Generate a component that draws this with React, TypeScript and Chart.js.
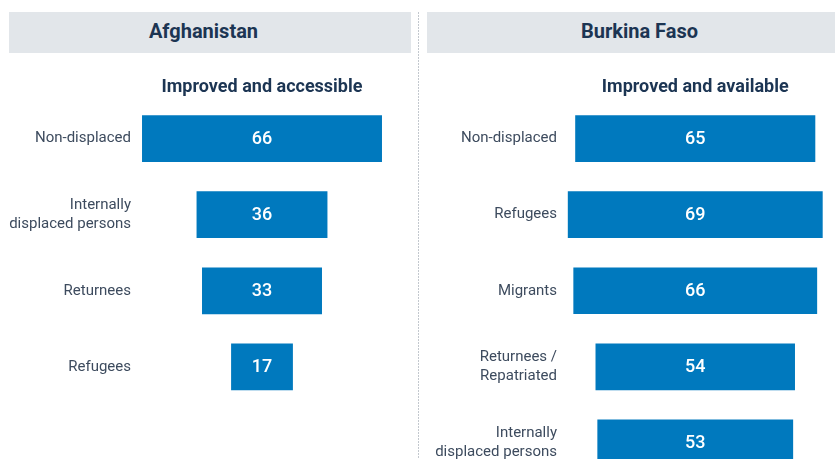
import React, { useEffect, useRef } from "react";
import { Chart, registerables } from "chart.js";

Chart.register(...registerables);

const afgTitle = "Afghanistan";
const afgSubtitle = "Improved and accessible";
const afgCategories: (string | string[])[] = ["Non-displaced", ["Internally", "displaced persons"], "Returnees", "Refugees"];
const afgValues = [66, 36, 33, 17];

const bfaTitle = "Burkina Faso";
const bfaSubtitle = "Improved and available";
const bfaCategories: (string | string[])[] = [
  "Non-displaced",
  "Refugees",
  "Migrants",
  ["Returnees /", "Repatriated"],
  ["Internally", "displaced persons"],
];
const bfaValues = [65, 69, 66, 54, 53];

const FONT = "Roboto, 'Noto Sans', sans-serif";
const BAR = "#0079be";
const LABEL = "#3d4b5e";
const HEAD = "#1c3553";

const valuePlugin = {
  id: "centerValues",
  afterDatasetsDraw(chart: any) {
    const ctx = chart.ctx;
    const meta = chart.getDatasetMeta(0);
    const data = chart.data.datasets[0].data as number[][];
    ctx.save();
    ctx.fillStyle = "#ffffff";
    ctx.font = `500 18px ${FONT}`;
    ctx.textAlign = "center";
    ctx.textBaseline = "middle";
    meta.data.forEach((bar: any, i: number) => {
      const { x, y, base } = bar.getProps(["x", "y", "base"], true);
      const v = Math.round(data[i][1] - data[i][0]);
      ctx.fillText(String(v), (x + base) / 2, y + 1);
    });
    ctx.restore();
  },
};

type PanelProps = {
  categories: (string | string[])[];
  values: number[];
  subtitle: string;
  left: number;
  width: number;
  height: number;
  padRight: number;
  xMax: number;
};

function Panel({ categories, values, subtitle, left, width, height, padRight, xMax }: PanelProps) {
  const ref = useRef<HTMLCanvasElement | null>(null);
  useEffect(() => {
    if (!ref.current) return;
    const chart = new Chart(ref.current, {
      type: "bar",
      data: {
        labels: categories as any,
        datasets: [
          {
            data: values.map((v) => [-v / 2, v / 2]) as any,
            backgroundColor: BAR,
            borderWidth: 0,
            categoryPercentage: 1,
            barPercentage: 0.614,
          },
        ],
      },
      options: {
        indexAxis: "y",
        animation: false,
        responsive: false,
        maintainAspectRatio: false,
        layout: { padding: { left: 0, right: padRight, top: 0, bottom: 0 } },
        scales: {
          x: { display: false, min: -xMax, max: xMax },
          y: {
            grid: { display: false, drawTicks: false },
            border: { display: false },
            ticks: {
              color: LABEL,
              padding: 8,
              font: { family: FONT, size: 15, lineHeight: 1.3 },
            },
            afterFit: (s: any) => {
              s.width = 139;
              s.paddingTop = 0;
              s.paddingBottom = 0;
            },
          },
        },
        plugins: {
          legend: { display: false },
          tooltip: { enabled: false },
          title: {
            display: true,
            text: subtitle,
            fullSize: false,
            color: HEAD,
            font: { family: FONT, size: 18, weight: "bold", lineHeight: 1.2 },
            padding: { top: 16.2, bottom: 2.7 },
          },
        },
      },
      plugins: [valuePlugin],
    } as any);
    return () => chart.destroy();
  }, []);
  return (
    <canvas
      ref={ref}
      width={width}
      height={height}
      style={{ position: "absolute", left, top: 60, width, height }}
    />
  );
}

export default function App() {
  const headerText: React.CSSProperties = {
    position: "absolute",
    top: 12,
    height: 39,
    lineHeight: "39px",
    textAlign: "center",
    fontFamily: FONT,
    fontWeight: 700,
    fontSize: 20,
    color: HEAD,
  };
  return (
    <div
      style={{
        position: "absolute",
        left: 0,
        top: 0,
        width: 835,
        height: 459,
        overflow: "hidden",
        background: "#ffffff",
      }}
    >
      <div style={{ position: "absolute", left: 9, top: 12, width: 402, height: 41, background: "#e2e6ea" }} />
      <div style={{ position: "absolute", left: 427, top: 12, width: 408, height: 41, background: "#e2e6ea" }} />
      <div style={{ ...headerText, left: 9, width: 389 }}>{afgTitle}</div>
      <div style={{ ...headerText, left: 427, width: 425 }}>{bfaTitle}</div>
      <div
        style={{
          position: "absolute",
          left: 418,
          top: 12,
          width: 1,
          height: 447,
          background: "repeating-linear-gradient(to bottom, #c3c8ce 0px, #c3c8ce 2px, transparent 2px, transparent 3px)",
        }}
      />
      <Panel
        categories={afgCategories}
        values={afgValues}
        subtitle={afgSubtitle}
        left={0}
        width={400}
        height={345}
        padRight={15}
        xMax={33.83}
      />
      <Panel
        categories={bfaCategories}
        values={bfaValues}
        subtitle={bfaSubtitle}
        left={426}
        width={409}
        height={421}
        padRight={9.5}
        xMax={35.26}
      />
    </div>
  );
}
